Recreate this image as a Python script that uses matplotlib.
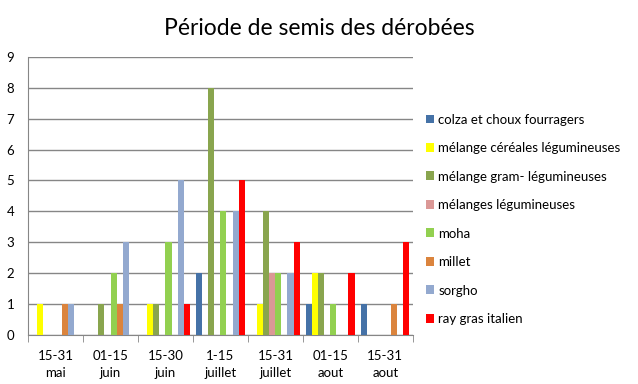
import numpy as np
import matplotlib
matplotlib.use("Agg")
import matplotlib.pyplot as plt

plt.rcParams['font.family'] = ['Lato', 'DejaVu Sans']

categories = ['15-31\nmai', '01-15\njuin', '15-30\njuin', '1-15\njuillet',
              '15-31\njuillet', '01-15\naout', '15-31\naout']
series = ['colza et choux fourragers', 'mélange céréales légumineuses',
          'mélange gram- légumineuses', 'mélanges légumineuses', 'moha',
          'millet', 'sorgho', 'ray gras italien']
colza = [0, 0, 0, 2, 0, 1, 1]
cereales = [1, 0, 1, 0, 1, 2, 0]
gram = [0, 1, 1, 8, 4, 2, 0]
legum = [0, 0, 0, 0, 2, 0, 0]
moha = [0, 2, 3, 4, 2, 1, 0]
millet = [1, 1, 0, 0, 0, 0, 1]
sorgho = [1, 3, 5, 4, 2, 0, 0]
raygras = [0, 0, 1, 5, 3, 2, 3]
values = [colza, cereales, gram, legum, moha, millet, sorgho, raygras]
colors = ['#4572A7', '#FFFF00', '#89A54E', '#DB9896', '#92D050',
          '#DB843D', '#93A9CF', '#FF0000']

fig = plt.figure(figsize=(6.38, 3.84), dpi=100)
ax = fig.add_axes([0.044, 0.128, 0.603, 0.724])

x = np.arange(len(categories))
w = 0.11
for i, (vals, col, name) in enumerate(zip(values, colors, series)):
    ax.bar(x + (i - 3.5) * w, vals, width=w, color=col, label=name, zorder=3)

ax.set_xlim(-0.5, len(categories) - 0.5)
ax.set_ylim(0, 9)
ax.set_yticks(range(10))
ax.yaxis.grid(True, color='#868686', linewidth=1, zorder=0)
ax.set_xticks(x)
ax.set_xticklabels(categories, fontsize=9.5, linespacing=1.5)
ax.set_xticks(np.arange(-0.5, len(categories)), minor=True)
ax.tick_params(axis='x', which='major', length=0, pad=11)
ax.tick_params(axis='x', which='minor', length=5, color='#868686', direction='out')
ax.tick_params(axis='y', length=0, labelsize=9.5, pad=10)
for s in ['top', 'right']:
    ax.spines[s].set_visible(False)
for s in ['left', 'bottom']:
    ax.spines[s].set_color('#868686')

fig.text(0.5, 0.925, 'Période de semis des dérobées', ha='center', va='center', fontsize=16.5)

leg = ax.legend(loc='upper left', bbox_to_anchor=(1.02, 0.815), frameon=False,
                fontsize=9.5, handlelength=0.65, handleheight=0.65,
                handletextpad=0.3, labelspacing=1.25, borderaxespad=0)

fig.savefig('out.png', dpi=100)
